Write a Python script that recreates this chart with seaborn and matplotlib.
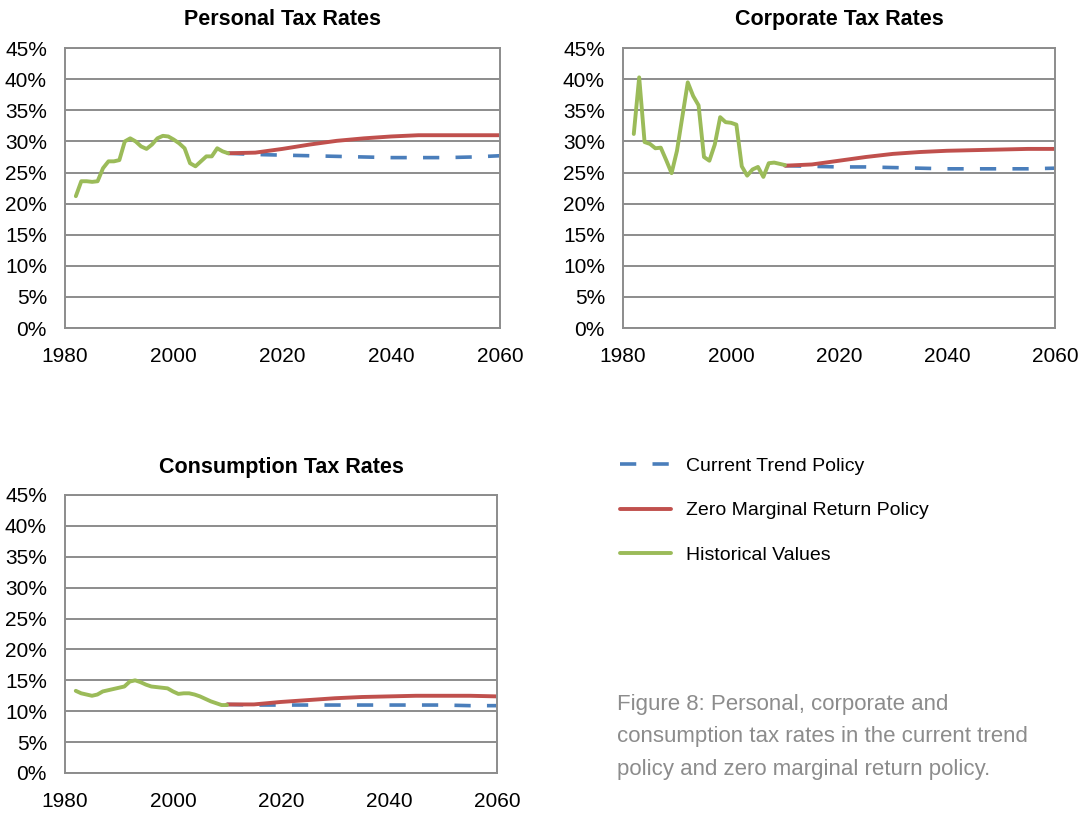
import matplotlib
matplotlib.use("Agg")
import matplotlib.pyplot as plt
import matplotlib.ticker as mticker
import pandas as pd
import seaborn as sns

# ---- data ----
hist_years = list(range(1982, 2011))
personal_hist = [21.2, 23.6, 23.6, 23.5, 23.6, 25.7, 26.8, 26.8, 27.0, 30.0,
                 30.5, 30.0, 29.2, 28.8, 29.5, 30.5, 30.9, 30.8, 30.3, 29.7,
                 28.9, 26.5, 26.0, 26.8, 27.6, 27.6, 28.9, 28.4, 28.1]
corporate_hist = [31.2, 40.3, 29.9, 29.6, 28.9, 29.0, 27.0, 24.9, 28.5, 34.0,
                  39.5, 37.3, 35.8, 27.5, 26.9, 29.5, 33.9, 33.1, 33.0, 32.7,
                  26.0, 24.5, 25.5, 25.9, 24.3, 26.5, 26.6, 26.4, 26.2]
consumption_hist = [13.3, 12.9, 12.7, 12.5, 12.7, 13.2, 13.4, 13.6, 13.8, 14.0,
                    14.8, 15.0, 14.7, 14.3, 14.0, 13.9, 13.8, 13.7, 13.2, 12.8,
                    12.9, 12.9, 12.7, 12.4, 12.0, 11.6, 11.3, 11.0, 11.0]

proj_years = [2010, 2015, 2020, 2025, 2030, 2035, 2040, 2045, 2050, 2055, 2060]
personal_trend = [28.1, 27.9, 27.8, 27.7, 27.6, 27.5, 27.4, 27.4, 27.4, 27.5, 27.7]
personal_zmr = [28.1, 28.2, 28.8, 29.5, 30.1, 30.5, 30.8, 31.0, 31.0, 31.0, 31.0]
corporate_trend = [26.1, 26.0, 25.9, 25.9, 25.8, 25.7, 25.6, 25.6, 25.6, 25.6, 25.7]
corporate_zmr = [26.1, 26.3, 26.9, 27.5, 28.0, 28.3, 28.5, 28.6, 28.7, 28.8, 28.8]
consumption_trend = [11.1, 11.0, 11.0, 11.0, 11.0, 11.0, 11.0, 11.0, 11.0, 10.9, 10.9]
consumption_zmr = [11.1, 11.1, 11.5, 11.8, 12.1, 12.3, 12.4, 12.5, 12.5, 12.5, 12.4]

titles = ["Personal Tax Rates", "Corporate Tax Rates", "Consumption Tax Rates"]
series_labels = ["Current Trend Policy", "Zero Marginal Return Policy", "Historical Values"]

BLUE = "#4a7ebb"
RED = "#c0504d"
GREEN = "#9bbb59"
GRID = "#8c8c8c"

sns.set_style("white")
plt.rcParams["font.family"] = ["Liberation Sans", "DejaVu Sans"]
plt.rcParams["text.color"] = "black"
NARROW = ["Liberation Sans Narrow", "Liberation Sans", "DejaVu Sans"]

fig = plt.figure(figsize=(10.81, 8.16), dpi=100)
axes = [
    fig.add_axes([0.0601, 0.598, 0.4024, 0.343]),
    fig.add_axes([0.5763, 0.598, 0.3996, 0.343]),
    fig.add_axes([0.0601, 0.0527, 0.3996, 0.3407]),
]
title_pads = [17, 17, 16]

panels = [
    (personal_hist, personal_trend, personal_zmr),
    (corporate_hist, corporate_trend, corporate_zmr),
    (consumption_hist, consumption_trend, consumption_zmr),
]

for ax, title, pad, (hist, trend, zmr) in zip(axes, titles, title_pads, panels):
    proj = pd.DataFrame({"year": proj_years, "trend": trend, "zmr": zmr})
    hdf = pd.DataFrame({"year": hist_years, "value": hist})
    sns.lineplot(data=proj, x="year", y="trend", ax=ax, color=BLUE, lw=2.6,
                 label=series_labels[0])
    ax.lines[-1].set_dashes((4.5, 4.5))
    sns.lineplot(data=proj, x="year", y="zmr", ax=ax, color=RED, lw=2.8,
                 label=series_labels[1])
    sns.lineplot(data=hdf, x="year", y="value", ax=ax, color=GREEN, lw=2.8,
                 label=series_labels[2])
    ax.get_legend().remove()

    ax.set_xlim(1980, 2060)
    ax.set_ylim(0, 45)
    ax.set_xticks([1980, 2000, 2020, 2040, 2060])
    ax.set_yticks(range(0, 46, 5))
    ax.yaxis.set_major_formatter(mticker.FuncFormatter(lambda v, p: f"{int(v)}%"))
    ax.set_xlabel("")
    ax.set_ylabel("")
    ax.grid(axis="y", color=GRID, lw=1.4)
    ax.set_axisbelow(True)
    for s in ax.spines.values():
        s.set_color(GRID)
        s.set_linewidth(1.4)
    ax.tick_params(axis="both", labelsize=15, colors="black", length=5,
                   width=1.2, direction="out")
    ax.tick_params(axis="y", pad=8)
    ax.tick_params(axis="x", pad=9)
    for t in ax.get_xticklines() + ax.get_yticklines():
        t.set_color(GRID)
    ax.set_title(title, fontsize=15.5, fontweight="bold", family=NARROW,
                 color="black", pad=pad)

handles, labels = axes[0].get_legend_handles_labels()
fig.legend(handles, labels, loc="upper left", bbox_to_anchor=(0.5735, 0.44),
           frameon=False, prop={"family": NARROW, "size": 14},
           handlelength=2.6, handletextpad=0.8, labelspacing=1.4,
           borderpad=0, borderaxespad=0)

fig.text(0.5708, 0.150,
         "Figure 8: Personal, corporate and\n"
         "consumption tax rates in the current trend\n"
         "policy and zero marginal return policy.",
         ha="left", va="top", fontsize=16, color="#8c8c8c", linespacing=1.72)

fig.savefig("out.png", dpi=100)
